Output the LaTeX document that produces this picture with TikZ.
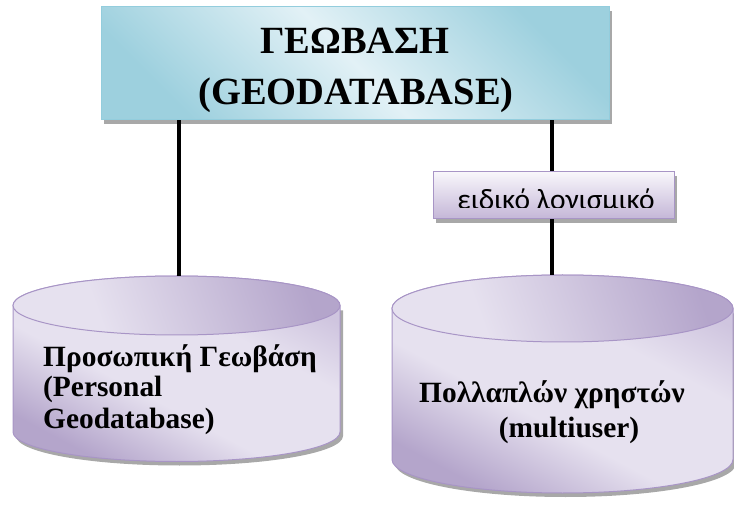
\documentclass[tikz,border=0pt]{standalone}
\usepackage{fontspec}
\setmainfont{Liberation Serif}
\newfontfamily\calfont{Carlito}
\definecolor{cyanlight}{HTML}{E2F1F6}
\definecolor{cyandark}{HTML}{9DD0DE}
\definecolor{cyanedge}{HTML}{93CDDD}
\definecolor{lavlight}{HTML}{E6E1EF}
\definecolor{lavmid}{HTML}{CFC5DF}
\definecolor{lavdark}{HTML}{B4A5CB}
\definecolor{lavedge}{HTML}{A895C6}
\definecolor{lavtop}{HTML}{F8F6FB}
\definecolor{lavbot}{HTML}{C4B6D7}
\definecolor{shadowgray}{HTML}{A8A8A8}
\pgfdeclarehorizontalshading{cyansh}{100bp}{color(0bp)=(cyandark); color(25bp)=(cyandark); color(50bp)=(cyanlight); color(75bp)=(cyandark); color(100bp)=(cyandark)}
\pgfdeclarehorizontalshading{lavsh}{100bp}{color(0bp)=(lavdark); color(25bp)=(lavdark); color(42bp)=(lavlight); color(62bp)=(lavlight); color(75bp)=(lavmid); color(100bp)=(lavmid)}
\pgfdeclarehorizontalshading{lavtopsh}{100bp}{color(0bp)=(lavlight); color(35bp)=(lavlight); color(75bp)=(lavdark); color(100bp)=(lavdark)}
\begin{document}
\begin{tikzpicture}[x=1pt,y=1pt,
  conn/.style={line width=3.3pt, black},
  shadowfill/.style={fill=shadowgray},
  titletext/.style={font=\bfseries\fontsize{38.5}{45}\selectfont, inner sep=0pt, anchor=base},
  cyltext/.style={font=\bfseries\fontsize{29.4}{31}\selectfont, inner sep=0pt},
  cylbody/.style={draw=lavedge, line width=1pt, shade, shading=lavsh, shading angle=62},
  cyltop/.style={draw=lavedge, line width=1pt, shade, shading=lavtopsh, shading angle=20},
]
\useasboundingbox (0,0) rectangle (734,504);

% ---- top box
\fill[shadowfill] (104,380) rectangle (612,493);
\node[draw=cyanedge, line width=1pt, shade, shading=cyansh, shading angle=45,
      minimum width=508pt, minimum height=113pt, inner sep=0pt] (top) at (355,440.5) {};
\node[titletext] (t1) at (355,450) {ΓΕΩΒΑΣΗ};
\node[titletext] (t2) at (356,399) {(GEODATABASE)};

% ---- small box
\fill[shadowfill] (436,281) rectangle (677,328);
\node[draw=lavedge, line width=1pt, top color=lavtop, bottom color=lavbot,
      minimum width=241pt, minimum height=47pt, inner sep=0pt] (sw) at (553.5,308.5) {};
\begin{scope}
  \clip (434,296) rectangle (673,331);
  \node[font=\calfont\fontsize{29.4}{35}\selectfont, anchor=base, inner sep=0pt] (swtext) at (556,294.5) {ειδικό λογισμικό};
\end{scope}

% ---- left cylinder
\fill[shadowfill] (16,193.5) -- (16,68) arc[start angle=180, end angle=360, x radius=163.5, y radius=29.5] -- (343,193.5) -- cycle;
\path[cylbody] (13,198.5) -- (13,72) arc[start angle=180, end angle=360, x radius=163.5, y radius=29.5]
   -- (340,198.5) arc[start angle=0, end angle=180, x radius=163.5, y radius=29.5] -- cycle;
\path[cyltop] (176.5,198.5) ellipse [x radius=163.5, y radius=29.5];
\coordinate (c1top) at (179,228);
\node[cyltext, anchor=base west] (c1a) at (43,138) {Προσωπική Γεωβάση};
\node[cyltext, anchor=base west] (c1b) at (43,107) {(Personal};
\node[cyltext, anchor=base west] (c1c) at (43,76) {Geodatabase)};

% ---- right cylinder
\fill[shadowfill] (395,190.5) -- (395,40.5) arc[start angle=180, end angle=360, x radius=170.5, y radius=33.5] -- (736,190.5) -- cycle;
\path[cylbody] (392,195.5) -- (392,44.5) arc[start angle=180, end angle=360, x radius=170.5, y radius=33.5]
   -- (733,195.5) arc[start angle=0, end angle=180, x radius=170.5, y radius=33.5] -- cycle;
\path[cyltop] (562.5,195.5) ellipse [x radius=170.5, y radius=33.5];
\coordinate (c2top) at (552,229);
\node[cyltext, anchor=base] (c2a) at (552,102) {Πολλαπλών χρηστών};
\node[cyltext, anchor=base] (c2b) at (569,67) {(multiuser)};

% ---- connectors
\draw[conn] (top.south -| c1top) -- (c1top);
\draw[conn] (top.south -| c2top) -- (sw.north -| c2top);
\draw[conn] (sw.south -| c2top) -- (c2top);
\end{tikzpicture}
\end{document}
